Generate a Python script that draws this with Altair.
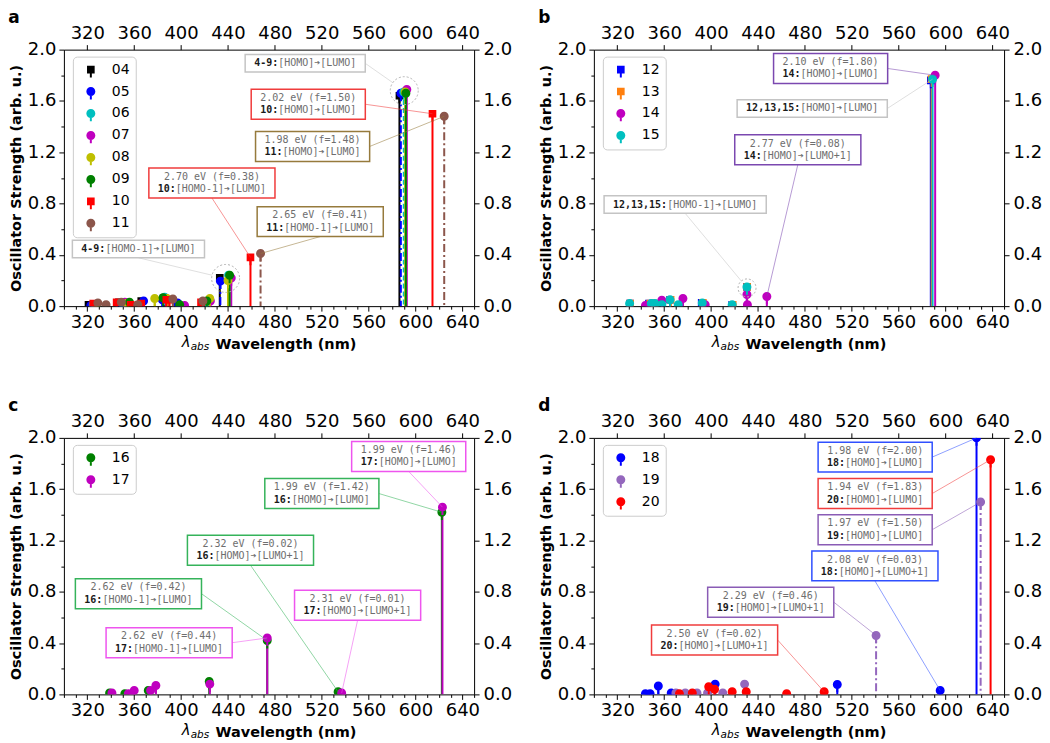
import math
import altair as alt
import pandas as pd

# ---------------- data ----------------
# Panel a
A_SERIES = ["04", "05", "06", "07", "08", "09", "10", "11"]
A_COLORS = ["#000000", "#0000ff", "#00bfbf", "#bf00bf", "#bfbf00", "#008000", "#ff0000", "#8c564b"]
A_SHAPES = ["square", "circle", "circle", "circle", "circle", "circle", "square", "circle"]
A_DASH = ["solid", "dashdot", "dashed", "solid", "solid", "solid", "solid", "dashdot"]
A_WL = [
    [321, 347, 366, 385, 433.0, 586.3],
    [323, 348, 368, 384, 397, 433.5, 587.5],
    [325, 350, 386, 422, 440.5, 590.0],
    [326, 352, 387, 403, 425, 442.8, 592.6],
    [327, 353, 377.5, 388, 424.5, 440.0, 591.2],
    [328, 356, 384.6, 398.8, 422, 441.4, 591.8],
    [325, 345, 357, 366, 387.4, 390, 417, 459.2, 614.5],
    [329, 336, 349, 363, 393, 418.6, 467.8, 624.5],
]
A_F = [
    [0.01, 0.03, 0.04, 0.06, 0.22, 1.64],
    [0.005, 0.02, 0.04, 0.05, 0.025, 0.195, 1.66],
    [0.01, 0.02, 0.07, 0.03, 0.24, 1.67],
    [0.01, 0.03, 0.06, 0.005, 0.04, 0.22, 1.69],
    [0.01, 0.02, 0.06, 0.06, 0.06, 0.20, 1.67],
    [0.01, 0.03, 0.065, 0.01, 0.04, 0.24, 1.66],
    [0.02, 0.03, 0.01, 0.02, 0.05, 0.05, 0.03, 0.38, 1.50],
    [0.025, 0.01, 0.03, 0.01, 0.055, 0.04, 0.41, 1.48],
]

# Panel b
B_SERIES = ["12", "13", "14", "15"]
B_COLORS = ["#0000ff", "#ff7f0e", "#bf00bf", "#00bfbf"]
B_SHAPES = ["square", "square", "circle", "circle"]
B_DASH = ["solid", "solid", "solid", "solid"]
B_WL = [
    [330.8, 347, 351, 365, 392, 418, 430.6, 587.5],
    [331, 348, 352, 365.5, 393, 418.5, 430.8, 588.2],
    [344, 358, 376, 395, 430.6, 431, 447.6, 591.2],
    [330.5, 349, 352, 358, 365, 372, 392.5, 418, 430.6, 589.0],
]
B_F = [
    [0.02, 0.02, 0.02, 0.05, 0.025, 0.01, 0.15, 1.76],
    [0.02, 0.02, 0.02, 0.05, 0.025, 0.01, 0.15, 1.77],
    [0.005, 0.045, 0.06, 0.01, 0.09, 0.01, 0.075, 1.80],
    [0.02, 0.02, 0.02, 0.01, 0.05, 0.01, 0.025, 0.01, 0.15, 1.77],
]

# Panel c
C_SERIES = ["16", "17"]
C_COLORS = ["#008000", "#bf00bf"]
C_SHAPES = ["circle", "circle"]
C_DASH = ["solid", "solid"]
C_WL = [
    [339, 352, 372, 424, 473.5, 534, 622.5],
    [341, 355, 360, 374, 378.5, 424.5, 473.5, 537, 623],
]
C_F = [
    [0.01, 0.005, 0.03, 0.10, 0.42, 0.02, 1.42],
    [0.01, 0.005, 0.03, 0.03, 0.07, 0.08, 0.44, 0.01, 1.46],
]

# Panel d
D_SERIES = ["18", "19", "20"]
D_COLORS = ["#0000ff", "#9467bd", "#ff0000"]
D_SHAPES = ["circle", "circle", "circle"]
D_DASH = ["solid", "dashdot", "solid"]
D_WL = [
    [344, 348, 355, 366, 403.5, 507.7, 595.5, 626.5],
    [370, 378, 388, 397, 410, 428.6, 540.8, 630.0],
    [373, 384, 398, 403, 418, 430, 464.5, 496.5, 638.5],
]
D_F = [
    [0.005, 0.005, 0.065, 0.01, 0.08, 0.077, 0.03, 2.00],
    [0.01, 0.01, 0.01, 0.01, 0.01, 0.08, 0.46, 1.50],
    [0.005, 0.01, 0.06, 0.04, 0.02, 0.02, 0.005, 0.02, 1.83],
]

# annotation boxes: centre (nm, f), first line, bold label, transition, edge colour,
# leader anchor (R = right side, B = bottom), target (nm, f), target circle radius
GRAY = "#c4c4c4"
A_ANN = [
    (505.9, 1.893, None, "4-9:", "[HOMO]➔[LUMO]", GRAY, "R", 590.4, 1.68, 14),
    (508.5, 1.574, "2.02 eV (f=1.50)", "10:", "[HOMO]➔[LUMO]", "#f03c3c", "R", 614.5, 1.50, 0),
    (512.2, 1.245, "1.98 eV (f=1.48)", "11:", "[HOMO]➔[LUMO]", "#967a3c", "R", 624.5, 1.48, 0),
    (426.3, 0.960, "2.70 eV (f=0.38)", "10:", "[HOMO-1]➔[LUMO]", "#f03c3c", "B", 459.2, 0.38, 0),
    (518.7, 0.659, "2.65 eV (f=0.41)", "11:", "[HOMO-1]➔[LUMO]", "#967a3c", "B", 467.8, 0.41, 0),
    (363.6, 0.445, None, "4-9:", "[HOMO-1]➔[LUMO]", GRAY, "B", 438.0, 0.216, 14),
]
A_CIRCLES = [(590.4, 1.68, 14), (438.0, 0.216, 14)]

B_ANN = [
    (502.0, 1.853, "2.10 eV (f=1.80)", "14:", "[HOMO]➔[LUMO]", "#7b48b0", "R", 591.2, 1.80, 0),
    (486.3, 1.541, None, "12,13,15:", "[HOMO]➔[LUMO]", GRAY, "R", 589.0, 1.77, 0),
    (474.0, 1.219, "2.77 eV (f=0.08)", "14:", "[HOMO]➔[LUMO+1]", "#7b48b0", "B", 447.6, 0.075, 0),
    (377.9, 0.792, None, "12,13,15:", "[HOMO-1]➔[LUMO]", GRAY, "B", 430.7, 0.142, 9),
]
B_CIRCLES = [(430.7, 0.142, 9)]

C_ANN = [
    (594.2, 1.855, "1.99 eV (f=1.46)", "17:", "[HOMO]➔[LUMO]", "#ee55ee", "B", 623.0, 1.46, 0),
    (520.1, 1.566, "1.99 eV (f=1.42)", "16:", "[HOMO]➔[LUMO]", "#35b35a", "R", 622.5, 1.42, 0),
    (459.2, 1.124, "2.32 eV (f=0.02)", "16:", "[HOMO]➔[LUMO+1]", "#35b35a", "B", 534.0, 0.02, 0),
    (363.6, 0.785, "2.62 eV (f=0.42)", "16:", "[HOMO-1]➔[LUMO]", "#35b35a", "R", 473.5, 0.42, 0),
    (550.6, 0.695, "2.31 eV (f=0.01)", "17:", "[HOMO]➔[LUMO+1]", "#ee55ee", "B", 537.0, 0.01, 0),
    (389.8, 0.403, "2.62 eV (f=0.44)", "17:", "[HOMO-1]➔[LUMO]", "#ee55ee", "R", 473.5, 0.44, 0),
]
C_CIRCLES = []

D_ANN = [
    (540.0, 1.850, "1.98 eV (f=2.00)", "18:", "[HOMO]➔[LUMO]", "#3050ff", "R", 626.5, 2.00, 0),
    (540.0, 1.566, "1.94 eV (f=1.83)", "20:", "[HOMO]➔[LUMO]", "#f03c3c", "R", 638.5, 1.83, 0),
    (540.0, 1.284, "1.97 eV (f=1.50)", "19:", "[HOMO]➔[LUMO]", "#8a5cb5", "R", 630.0, 1.50, 0),
    (539.8, 1.002, "2.08 eV (f=0.03)", "18:", "[HOMO]➔[LUMO+1]", "#3050ff", "B", 595.5, 0.03, 0),
    (450.9, 0.719, "2.29 eV (f=0.46)", "19:", "[HOMO]➔[LUMO+1]", "#8a5cb5", "R", 540.8, 0.46, 0),
    (403.0, 0.424, "2.50 eV (f=0.02)", "20:", "[HOMO]➔[LUMO+1]", "#f03c3c", "R", 496.5, 0.02, 0),
]
D_CIRCLES = []

X_DOMAIN = [300, 650]
Y_DOMAIN = [0, 2]
X_MAJOR = list(range(320, 641, 40))
X_ALL = list(range(300, 651, 10))
Y_MAJOR = [0.0, 0.4, 0.8, 1.2, 1.6, 2.0]
Y_ALL = [round(i * 0.2, 1) for i in range(11)]

# ---------------- layout constants ----------------
PW, PH = 411, 257
KX = (X_DOMAIN[1] - X_DOMAIN[0]) / PW
KY = (Y_DOMAIN[1] - Y_DOMAIN[0]) / PH
CHAR_W = 6.02
BOX_PADX = 9

CIRCLE_STEM = "M-1,0A1,1,0,1,1,1,0A1,1,0,1,1,-1,0Z M-0.22,0.5L0.22,0.5L0.22,1.75L-0.22,1.75Z"
SQUARE_STEM = "M-0.85,-0.85L0.85,-0.85L0.85,0.85L-0.85,0.85Z M-0.22,0.5L0.22,0.5L0.22,1.75L-0.22,1.75Z"
PATHS = {"circle": CIRCLE_STEM, "square": SQUARE_STEM}

XS = alt.Scale(domain=X_DOMAIN, nice=False, zero=False)
YS = alt.Scale(domain=Y_DOMAIN, nice=False, zero=False)

MONO = "DejaVu Sans Mono"
TXT_GRAY = "#6e6e6e"


def build_annotations(ann):
    boxes, lines, t1, tp, tr = [], [], [], [], []
    for (cx, cy, l1, pre, rest, col, anchor, tx, ty, rad) in ann:
        n2 = len(pre) + len(rest)
        nmax = max(n2, len(l1) if l1 else 0)
        bw = nmax * CHAR_W + 2 * BOX_PADX
        bh = 30 if l1 else 17.5
        x1, x2 = cx - bw / 2 * KX, cx + bw / 2 * KX
        y1, y2 = cy - bh / 2 * KY, cy + bh / 2 * KY
        boxes.append(dict(x=x1, x2=x2, y=y1, y2=y2, c=col))
        if anchor == "R":
            sx, sy = x2, cy
        else:
            sx, sy = cx, y1
        ex, ey = tx, ty
        if rad:
            dxp, dyp = (sx - tx) / KX, (sy - ty) / KY
            d = math.hypot(dxp, dyp)
            ex, ey = tx + dxp / d * rad * KX, ty + dyp / d * rad * KY
        lines.append(dict(x=sx, y=sy, x2=ex, y2=ey, c=col))
        if l1:
            t1.append(dict(x=cx, y=cy + 6.3 * KY, t=l1))
            ly = cy - 6.0 * KY
        else:
            ly = cy
        start = cx - n2 * CHAR_W / 2 * KX
        tp.append(dict(x=start, y=ly, t=pre))
        tr.append(dict(x=start + len(pre) * CHAR_W * KX, y=ly, t=rest))
    return [pd.DataFrame(v) for v in (boxes, lines, t1, tp, tr)]


def panel(letter, series, colors, shapes, dashes, wls, fs, ann, circles):
    rows = []
    for s, c, d, wl, fl in zip(series, colors, dashes, wls, fs):
        for w, f in zip(wl, fl):
            rows.append(dict(series=s, w=w, f=f, color=c, dash=d))
    df = pd.DataFrame(rows)

    bottom_axis = alt.Axis(
        orient="bottom", values=X_ALL, format="d",
        labelExpr="(datum.value - 320) % 40 == 0 ? datum.label : ''",
        tickSize={"condition": {"test": "(datum.value - 320) % 40 == 0", "value": 5}, "value": 3},
        title="Wavelength (nm)", titleX=222, titleY=42, titleAlign="center",
        titleBaseline="alphabetic", labelPadding=2,
    )
    left_axis = alt.Axis(
        orient="left", values=Y_ALL,
        labelExpr="round(datum.value * 10) % 4 == 0 ? format(datum.value, '.1f') : ''",
        tickSize={"condition": {"test": "round(datum.value * 10) % 4 == 0", "value": 5}, "value": 3},
        title="Oscillator Strength (arb. u.)", titlePadding=4, labelPadding=3,
    )
    top_axis = alt.Axis(orient="top", values=X_MAJOR, format="d", title=None,
                        tickSize=5, labelPadding=2)
    right_axis = alt.Axis(orient="right", values=Y_MAJOR, format=".1f", title=None,
                          tickSize=5, labelPadding=4)

    stems = alt.Chart(df).mark_rule(strokeWidth=2, clip=True).encode(
        x=alt.X("w:Q", scale=XS, axis=bottom_axis),
        y=alt.Y("f:Q", scale=YS, axis=left_axis),
        y2=alt.datum(0),
        color=alt.Color("color:N", scale=None),
        strokeDash=alt.StrokeDash(
            "dash:N",
            scale=alt.Scale(domain=["solid", "dashdot", "dashed"],
                            range=[[1, 0], [8, 3, 2, 3], [5, 3]]),
            legend=None),
    )

    legend = alt.Legend(
        title=None, orient="none", legendX=9, legendY=7, padding=6,
        strokeColor="#cccccc", fillColor="white", cornerRadius=4,
        labelFont="DejaVu Sans", labelFontSize=14, labelColor="black",
        symbolSize=81, symbolOffset=5, labelOffset=14, rowPadding=7,
        symbolStrokeWidth=0,
    )
    points = alt.Chart(df).mark_point(filled=True, size=81, opacity=1, strokeWidth=0, clip=True).encode(
        x=alt.X("w:Q", scale=XS, axis=top_axis),
        y=alt.Y("f:Q", scale=YS, axis=right_axis),
        color=alt.Color("series:N", scale=alt.Scale(domain=series, range=colors), legend=legend),
        shape=alt.Shape("series:N", scale=alt.Scale(domain=series, range=[PATHS[s] for s in shapes]),
                        legend=legend),
    )

    bdf, ldf, t1df, tpdf, trdf = build_annotations(ann)

    layers = [stems, points]
    if circles:
        cdf = pd.DataFrame([dict(w=w, f=f, s=(2 * r) ** 2) for (w, f, r) in circles])
        layers.append(
            alt.Chart(cdf).mark_point(shape="circle", filled=False, stroke="#b0b0b0",
                                      strokeWidth=1, strokeDash=[2, 2], opacity=1).encode(
                x=alt.X("w:Q", scale=XS, axis=None),
                y=alt.Y("f:Q", scale=YS, axis=None),
                size=alt.Size("s:Q", scale=None),
            )
        )
    layers.append(
        alt.Chart(ldf).mark_rule(strokeWidth=1, strokeOpacity=0.55).encode(
            x=alt.X("x:Q", scale=XS, axis=None), x2="x2:Q",
            y=alt.Y("y:Q", scale=YS, axis=None), y2="y2:Q",
            color=alt.Color("c:N", scale=None),
        )
    )
    layers.append(
        alt.Chart(bdf).mark_rect(fill="white", strokeWidth=1.5).encode(
            x=alt.X("x:Q", scale=XS, axis=None), x2="x2:Q",
            y=alt.Y("y:Q", scale=YS, axis=None), y2="y2:Q",
            stroke=alt.Stroke("c:N", scale=None),
        )
    )
    if len(t1df):
        layers.append(
            alt.Chart(t1df).mark_text(font=MONO, fontSize=10, color=TXT_GRAY,
                                      align="center", baseline="middle").encode(
                x=alt.X("x:Q", scale=XS, axis=None),
                y=alt.Y("y:Q", scale=YS, axis=None), text="t:N")
        )
    layers.append(
        alt.Chart(tpdf).mark_text(font=MONO, fontWeight="bold", fontSize=10,
                                  color="#1a1a1a", align="left", baseline="middle").encode(
            x=alt.X("x:Q", scale=XS, axis=None),
            y=alt.Y("y:Q", scale=YS, axis=None), text="t:N")
    )
    layers.append(
        alt.Chart(trdf).mark_text(font=MONO, fontSize=10, color=TXT_GRAY,
                                  align="left", baseline="middle").encode(
            x=alt.X("x:Q", scale=XS, axis=None),
            y=alt.Y("y:Q", scale=YS, axis=None), text="t:N")
    )
    # lambda_abs part of the x-axis title
    layers.append(
        alt.Chart(pd.DataFrame({"t": ["λ"]})).mark_text(
            font="DejaVu Sans", fontStyle="italic", fontSize=15, color="black",
            align="left", baseline="alphabetic").encode(
            x=alt.value(118), y=alt.value(PH + 41), text="t:N")
    )
    layers.append(
        alt.Chart(pd.DataFrame({"t": ["abs"]})).mark_text(
            font="DejaVu Sans", fontStyle="italic", fontSize=10.5, color="black",
            align="left", baseline="alphabetic").encode(
            x=alt.value(127), y=alt.value(PH + 44), text="t:N")
    )

    return alt.layer(*layers).resolve_axis(x="independent", y="independent").properties(
        width=PW, height=PH,
        title=alt.TitleParams(text=letter, anchor="start", frame="bounds", fontSize=17,
                              fontWeight="bold", font="DejaVu Sans", color="black", offset=-2),
    )


pa = panel("a", A_SERIES, A_COLORS, A_SHAPES, A_DASH, A_WL, A_F, A_ANN, A_CIRCLES)
pb = panel("b", B_SERIES, B_COLORS, B_SHAPES, B_DASH, B_WL, B_F, B_ANN, B_CIRCLES)
pc = panel("c", C_SERIES, C_COLORS, C_SHAPES, C_DASH, C_WL, C_F, C_ANN, C_CIRCLES)
pd_ = panel("d", D_SERIES, D_COLORS, D_SHAPES, D_DASH, D_WL, D_F, D_ANN, D_CIRCLES)

top_row = alt.hconcat(pa, pb, spacing=26).resolve_scale(color="independent", shape="independent")
bottom_row = alt.hconcat(pc, pd_, spacing=26).resolve_scale(color="independent", shape="independent")

chart = alt.vconcat(
    top_row, bottom_row,
    spacing=44,
    padding={"left": 0, "top": 0, "right": 0, "bottom": 0},
).resolve_scale(color="independent", shape="independent").configure_view(stroke=None).configure_axis(
    labelFont="DejaVu Sans", labelFontSize=18, labelColor="black",
    tickColor="black", domainColor="black", tickWidth=1, domainWidth=1, grid=False,
    titleFont="DejaVu Sans", titleFontWeight="bold", titleFontSize=14.5, titleColor="black",
)

chart.save("out.html", embed_options={"renderer": "svg", "actions": False})
